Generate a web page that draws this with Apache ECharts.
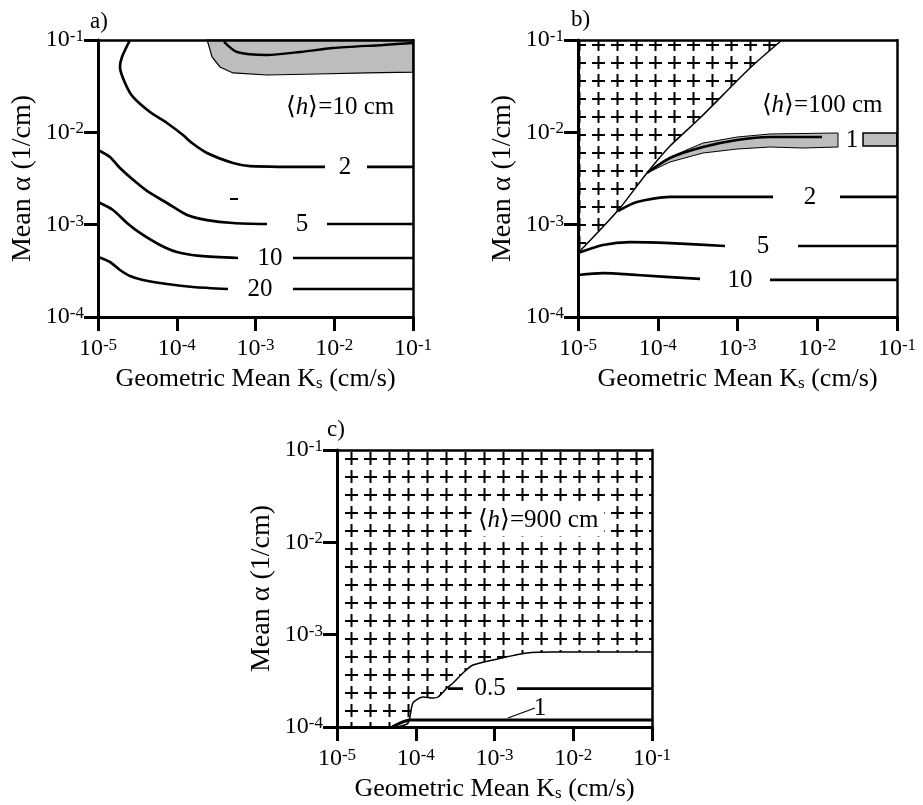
<!DOCTYPE html>
<html>
<head>
<meta charset="utf-8">
<script src="https://cdn.jsdelivr.net/npm/echarts@6/dist/echarts.min.js"></script>
<style>
    html, body {margin: 0; background: #fff}
    #main {width: 923px; height: 805px}
</style>
</head>
<body>
<div id="main"></div>
<script>
    // all points are [log10 Ks, log10 alpha]
    // panel a, <h> = 10 cm
    var aShade = [[-3.616, -1], [-3.603, -1.032], [-3.552, -1.184], [-3.451, -1.292], [-3.286, -1.357], [-2.854, -1.379],
        [-2.219, -1.368], [-1.584, -1.357], [-1, -1.347], [-1, -1]];
    var aC1 = [[-3.40, -1.02], [-3.235, -1.130], [-2.854, -1.162], [-2.435, -1.130], [-2.016, -1.087], [-1.381, -1.054], [-1, -1.032]];
    var aC2 = [[-4.594, -1], [-4.695, -1.184], [-4.721, -1.292], [-4.657, -1.466], [-4.556, -1.617], [-4.340, -1.780],
        [-4.124, -1.899], [-3.921, -2.029], [-3.806, -2.116], [-3.616, -2.224], [-3.286, -2.332], [-3.070, -2.365], [-2.117, -2.375]];
    var aC2r = [[-1.584, -2.375], [-1, -2.375]];
    var aBit = [[-3.324, -2.722], [-3.222, -2.722]];
    var aC5 = [[-5, -2.191], [-4.848, -2.267], [-4.721, -2.386], [-4.505, -2.549], [-4.340, -2.657], [-4.124, -2.765],
        [-3.870, -2.895], [-3.616, -2.950], [-3.286, -2.982], [-2.854, -2.993]];
    var aC5r = [[-2.092, -2.993], [-1, -2.993]];
    var aC10 = [[-5, -2.755], [-4.810, -2.841], [-4.632, -2.982], [-4.467, -3.090], [-4.213, -3.220], [-3.997, -3.296],
        [-3.705, -3.339], [-3.222, -3.361]];
    var aC10r = [[-2.524, -3.361], [-1, -3.361]];
    var aC20 = [[-5, -3.350], [-4.848, -3.404], [-4.721, -3.491], [-4.594, -3.556], [-4.429, -3.599], [-4.124, -3.643],
        [-3.794, -3.675], [-3.349, -3.697]];
    var aC20r = [[-2.524, -3.697], [-1, -3.697]];
    var aTagPos = [[-1.863, -2.375], [-2.410, -2.993], [-2.816, -3.361], [-2.943, -3.697]];
    var aTagText = ['2', '5', '10', '20'];

    // panel b, <h> = 100 cm
    var bHatch = [[-5, -3.307], [-4.724, -3.058], [-4.473, -2.820], [-4.135, -2.440], [-3.846, -2.148], [-3.470, -1.845],
        [-2.843, -1.303], [-2.442, -1], [-5, -1]];
    var bEdge = [[-5, -3.307], [-4.724, -3.058], [-4.473, -2.820], [-4.135, -2.440], [-3.846, -2.148], [-3.470, -1.845],
        [-2.843, -1.303], [-2.442, -1]];
    var bBand = [[-4.135, -2.440], [-3.846, -2.267], [-3.433, -2.116], [-3.006, -2.051], [-2.592, -2.018], [-1.740, -2.007],
        [-1.740, -2.159], [-2.179, -2.170], [-2.592, -2.159], [-3.006, -2.181], [-3.433, -2.224], [-3.846, -2.321]];
    var bBandR = [[-1.426, -2.007], [-1, -2.007], [-1, -2.148], [-1.426, -2.148]];
    var bC1 = [[-4.135, -2.440], [-3.846, -2.278], [-3.433, -2.159], [-3.006, -2.083], [-2.592, -2.051], [-1.940, -2.051]];
    var bC2 = [[-4.498, -2.852], [-4.260, -2.755], [-3.846, -2.700], [-3.433, -2.700], [-2.555, -2.700]];
    var bC2r = [[-1.715, -2.700], [-1, -2.700]];
    var bC5 = [[-5, -3.307], [-4.687, -3.220], [-4.348, -3.188], [-3.846, -3.199], [-3.157, -3.231]];
    var bC5r = [[-2.241, -3.231], [-1, -3.231]];
    var bC10 = [[-5, -3.545], [-4.687, -3.524], [-4.260, -3.545], [-3.470, -3.588]];
    var bC10r = [[-2.592, -3.599], [-1, -3.599]];
    var bTagPos = [[-1.564, -2.083], [-2.091, -2.700], [-2.680, -3.231], [-2.969, -3.599]];
    var bTagText = ['1', '2', '5', '10'];

    // panel c, <h> = 900 cm
    var cHatch = [[-5, -4], [-4.238, -4], [-4.098, -3.957], [-4.035, -3.740], [-3.908, -3.675], [-3.781, -3.686], [-3.717, -3.675],
        [-3.603, -3.578], [-3.527, -3.524], [-3.400, -3.415], [-3.273, -3.329], [-3.019, -3.274], [-2.587, -3.199],
        [-2.257, -3.188], [-1, -3.188], [-1, -1], [-5, -1]];
    var cEdge = [[-4.238, -4], [-4.098, -3.957], [-4.035, -3.740], [-3.908, -3.675], [-3.781, -3.686], [-3.717, -3.675],
        [-3.603, -3.578], [-3.527, -3.524], [-3.400, -3.415], [-3.273, -3.329], [-3.019, -3.274], [-2.587, -3.199],
        [-2.257, -3.188], [-1, -3.188]];
    var cC05 = [[-3.590, -3.584], [-3.400, -3.584]];
    var cC05r = [[-2.714, -3.584], [-1, -3.584]];
    var cC1 = [[-4.300, -4], [-4.073, -3.924], [-1, -3.924]];
    var cLeader = [[-2.829, -3.903], [-2.486, -3.794]];
    var cTagPos = [[-3.057, -3.584], [-2.422, -3.794]];
    var cTagText = ['0.5', '1'];

    var headPos = [[-1.927, -1.726], [-1.940, -1.704], [-2.448, -1.758]];
    var headText = ['⟨{i|h}⟩=10 cm', '⟨{i|h}⟩=100 cm', '⟨{i|h}⟩=900 cm'];

    var FONT = '"Liberation Serif", "Times New Roman", serif';

    // cross hatch tile
    var tile = document.createElement('canvas');
    tile.width = 19;
    tile.height = 18;
    var g = tile.getContext('2d');
    g.fillStyle = '#000';
    g.fillRect(3, 8, 13, 2);
    g.fillRect(8.5, 2, 2, 13);
    var hatchFill = {image: tile, repeat: 'repeat'};

    function toVal(pts) {
        return pts.map(function (p) {
            return [Math.pow(10, p[0]), Math.pow(10, p[1])];
        });
    }

    function line(gi, pts, w) {
        return {
            type: 'line', xAxisIndex: gi, yAxisIndex: gi, data: toVal(pts), symbol: 'none', smooth: 0.25,
            lineStyle: {color: '#000', width: w || 2.7}, z: 5, silent: true
        };
    }

    function poly(gi, pts, style) {
        return {
            type: 'custom', xAxisIndex: gi, yAxisIndex: gi, data: toVal(pts), z: 1, silent: true,
            renderItem: function (params, api) {
                if (params.dataIndex !== 0) return null;
                return {
                    type: 'polygon',
                    shape: {
                        points: pts.map(function (q) {
                            return api.coord([Math.pow(10, q[0]), Math.pow(10, q[1])]);
                        })
                    },
                    style: style
                };
            }
        };
    }

    function tags(gi, pos, texts, extra) {
        return {
            type: 'scatter', xAxisIndex: gi, yAxisIndex: gi, symbolSize: 1, z: 6, silent: true,
            itemStyle: {color: 'rgba(0,0,0,0)', opacity: 1},
            data: pos.map(function (p, i) {
                return {value: [Math.pow(10, p[0]), Math.pow(10, p[1])], name: texts[i]};
            }),
            label: Object.assign({
                show: true, position: 'inside', formatter: '{b}', color: '#000', opacity: 1,
                fontFamily: FONT, fontSize: 25,
                rich: {i: {fontFamily: FONT, fontSize: 25, fontStyle: 'italic', color: '#000'}}
            }, extra || {})
        };
    }

    function supLabel(v) {
        return '10{s|' + Math.round(Math.log10(v)) + '}';
    }

    var labelStyle = {
        color: '#000', fontFamily: FONT, fontSize: 24, lineHeight: 24,
        rich: {s: {fontFamily: FONT, fontSize: 17, lineHeight: 17, verticalAlign: 'top', color: '#000'}}
    };

    var xAxes = [], yAxes = [];
    [0, 1, 2].forEach(function (i) {
        xAxes.push({
            gridIndex: i, type: 'log', logBase: 10, min: 1e-5, max: 1e-1, position: 'bottom', z: 10,
            axisLine: {lineStyle: {color: '#000', width: 3}},
            axisTick: {length: 14, lineStyle: {color: '#000', width: 3}},
            axisLabel: Object.assign({margin: 20, formatter: supLabel}, labelStyle),
            splitLine: {show: false}, minorTick: {show: false},
            name: 'Geometric Mean K{s|s} (cm/s)', nameLocation: 'middle', nameGap: 49,
            nameTextStyle: {
                color: '#000', fontFamily: FONT, fontSize: 26, lineHeight: 26,
                rich: {s: {fontFamily: FONT, fontSize: 17, lineHeight: 17, verticalAlign: 'bottom', color: '#000'}}
            }
        });
        yAxes.push({
            gridIndex: i, type: 'log', logBase: 10, min: 1e-4, max: 1e-1, position: 'left', z: 10,
            axisLine: {lineStyle: {color: '#000', width: 3}},
            axisTick: {length: 14, lineStyle: {color: '#000', width: 3}},
            axisLabel: Object.assign({margin: 14, formatter: supLabel}, labelStyle),
            splitLine: {show: false}, minorTick: {show: false},
            name: 'Mean α (1/cm)', nameLocation: 'middle', nameGap: 61,
            nameTextStyle: {color: '#000', fontFamily: FONT, fontSize: 28}
        });
    });
    [0, 1, 2].forEach(function (i) {
        xAxes.push({
            gridIndex: i, type: 'log', logBase: 10, min: 1e-5, max: 1e-1, position: 'top', z: 10,
            axisLine: {lineStyle: {color: '#000', width: 2.5}}, axisTick: {show: false},
            axisLabel: {show: false}, splitLine: {show: false}
        });
        yAxes.push({
            gridIndex: i, type: 'log', logBase: 10, min: 1e-4, max: 1e-1, position: 'right', z: 10,
            axisLine: {lineStyle: {color: '#000', width: 2.5}}, axisTick: {show: false},
            axisLabel: {show: false}, splitLine: {show: false}
        });
    });

    var chart = echarts.init(document.getElementById('main'));
    chart.setOption({
        animation: false,
        backgroundColor: '#fff',
        grid: [
            {left: 98, top: 40, width: 315, height: 277},
            {left: 578, top: 40, width: 319, height: 277},
            {left: 337, top: 450, width: 315, height: 277}
        ],
        xAxis: xAxes,
        yAxis: yAxes,
        graphic: [
            {type: 'text', left: 90, top: 10, style: {text: 'a)', font: '23px ' + FONT, fill: '#000'}},
            {type: 'text', left: 571, top: 8, style: {text: 'b)', font: '23px ' + FONT, fill: '#000'}},
            {type: 'text', left: 327, top: 418, style: {text: 'c)', font: '23px ' + FONT, fill: '#000'}}
        ],
        series: [
            poly(0, aShade, {fill: '#bdbdbd', stroke: '#000', lineWidth: 1.2}),
            line(0, aC1, 2.4),
            line(0, aC2), line(0, aC2r),
            line(0, aBit, 2),
            line(0, aC5), line(0, aC5r),
            line(0, aC10), line(0, aC10r),
            line(0, aC20), line(0, aC20r),
            tags(0, aTagPos, aTagText),

            poly(1, bHatch, {fill: hatchFill}),
            poly(1, bBand, {fill: '#bdbdbd', stroke: '#000', lineWidth: 1}),
            poly(1, bBandR, {fill: '#bdbdbd', stroke: '#000', lineWidth: 1.5}),
            line(1, bEdge, 1.5),
            line(1, bC1, 2.6),
            line(1, bC2), line(1, bC2r),
            line(1, bC5), line(1, bC5r),
            line(1, bC10), line(1, bC10r),
            tags(1, bTagPos, bTagText),

            poly(2, cHatch, {fill: hatchFill}),
            line(2, cEdge, 1.5),
            line(2, cC05), line(2, cC05r),
            line(2, cC1, 3),
            line(2, cLeader, 1.2),
            tags(2, cTagPos, cTagText),

            tags(0, [headPos[0]], [headText[0]]),
            tags(1, [headPos[1]], [headText[1]]),
            tags(2, [headPos[2]], [headText[2]], {backgroundColor: '#fff', padding: [4, 6]})
        ]
    });
</script>
</body>
</html>
